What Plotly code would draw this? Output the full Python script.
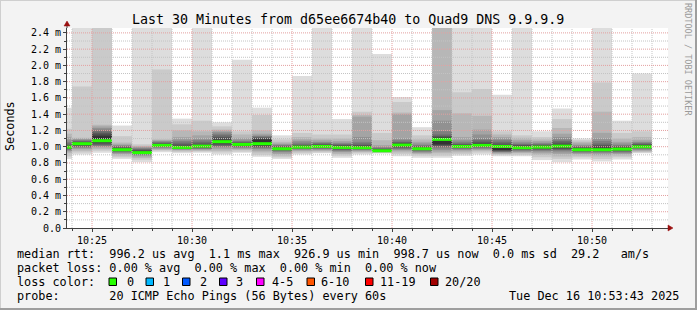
import plotly.graph_objects as go

# ---------------- data ----------------
DAY = "2025-12-16 "
# end time of each 1-minute interval
times = ["10:24", "10:25", "10:26", "10:27", "10:28", "10:29", "10:30", "10:31",
         "10:32", "10:33", "10:34", "10:35", "10:36", "10:37", "10:38", "10:39",
         "10:40", "10:41", "10:42", "10:43", "10:44", "10:45", "10:46", "10:47",
         "10:48", "10:49", "10:50", "10:51", "10:52", "10:53"]

# median rtt (ms)
median = [0.995, 1.037, 1.074, 0.963, 0.927, 1.016, 0.991, 1.007, 1.062, 1.028,
          1.037, 0.975, 0.995, 1.003, 0.991, 0.988, 0.950, 1.020, 0.975, 1.090,
          1.003, 1.016, 1.003, 0.988, 0.995, 1.007, 0.963, 0.963, 0.970, 0.999]

# sorted pings 1..10 (ms)
ping_lo = [
    [0.850, 0.880, 0.920, 0.940, 0.950, 0.960, 0.970, 0.980, 0.985, 0.990],
    [0.905, 0.930, 0.950, 0.970, 0.980, 0.990, 1.000, 1.010, 1.020, 1.030],
    [0.926, 0.950, 0.970, 0.990, 1.000, 1.010, 1.020, 1.030, 1.050, 1.065],
    [0.850, 0.870, 0.890, 0.910, 0.920, 0.930, 0.940, 0.950, 0.955, 0.960],
    [0.810, 0.840, 0.860, 0.880, 0.890, 0.900, 0.910, 0.920, 0.925, 0.930],
    [0.933, 0.950, 0.960, 0.970, 0.980, 0.990, 1.000, 1.005, 1.010, 1.013],
    [0.920, 0.935, 0.950, 0.960, 0.965, 0.970, 0.975, 0.980, 0.985, 0.990],
    [0.926, 0.940, 0.950, 0.960, 0.970, 0.975, 0.980, 0.990, 0.995, 1.000],
    [0.905, 0.930, 0.950, 0.970, 0.990, 1.000, 1.010, 1.020, 1.040, 1.050],
    [0.926, 0.940, 0.960, 0.970, 0.980, 0.990, 1.000, 1.010, 1.015, 1.020],
    [0.876, 0.900, 0.930, 0.950, 0.970, 0.980, 0.990, 1.000, 1.010, 1.030],
    [0.850, 0.870, 0.890, 0.910, 0.930, 0.940, 0.950, 0.960, 0.965, 0.970],
    [0.905, 0.920, 0.940, 0.950, 0.960, 0.970, 0.975, 0.980, 0.985, 0.990],
    [0.920, 0.930, 0.945, 0.955, 0.965, 0.970, 0.980, 0.985, 0.990, 0.995],
    [0.864, 0.890, 0.910, 0.930, 0.940, 0.950, 0.960, 0.970, 0.980, 0.985],
    [0.905, 0.920, 0.935, 0.945, 0.955, 0.960, 0.970, 0.975, 0.980, 0.985],
    [0.917, 0.925, 0.930, 0.935, 0.940, 0.942, 0.944, 0.946, 0.948, 0.950],
    [0.884, 0.910, 0.930, 0.950, 0.960, 0.970, 0.980, 0.990, 1.000, 1.010],
    [0.864, 0.890, 0.910, 0.920, 0.930, 0.940, 0.950, 0.960, 0.965, 0.970],
    [0.864, 0.890, 0.920, 0.940, 0.960, 0.980, 1.000, 1.010, 1.020, 1.030],
    [0.890, 0.910, 0.930, 0.950, 0.960, 0.970, 0.980, 0.990, 0.995, 1.000],
    [0.905, 0.930, 0.950, 0.960, 0.970, 0.980, 0.990, 1.000, 1.005, 1.010],
    [0.884, 0.900, 0.910, 0.920, 0.930, 0.935, 0.940, 0.950, 0.955, 0.960],
    [0.884, 0.900, 0.920, 0.930, 0.940, 0.950, 0.960, 0.970, 0.975, 0.980],
    [0.835, 0.870, 0.900, 0.920, 0.940, 0.950, 0.960, 0.970, 0.980, 0.990],
    [0.810, 0.850, 0.880, 0.910, 0.930, 0.950, 0.960, 0.970, 0.980, 0.990],
    [0.843, 0.870, 0.890, 0.910, 0.920, 0.930, 0.940, 0.950, 0.955, 0.960],
    [0.818, 0.850, 0.880, 0.900, 0.920, 0.930, 0.940, 0.950, 0.955, 0.960],
    [0.843, 0.870, 0.890, 0.910, 0.920, 0.930, 0.940, 0.950, 0.960, 0.965],
    [0.920, 0.930, 0.940, 0.950, 0.960, 0.970, 0.980, 0.985, 0.990, 0.995],
]
# sorted pings 11..20 (ms)
ping_hi = [
    [1.000, 1.010, 1.020, 1.040, 1.060, 1.090, 1.120, 1.160, 1.220, 1.480],
    [1.040, 1.050, 1.060, 1.070, 1.080, 1.090, 1.100, 1.110, 1.740, 2.900],
    [1.130, 1.150, 1.170, 1.190, 1.210, 1.230, 1.250, 1.270, 2.800, 3.000],
    [0.970, 0.980, 0.990, 1.000, 1.010, 1.020, 1.030, 1.050, 1.130, 1.260],
    [0.940, 0.950, 0.960, 0.970, 0.980, 0.990, 1.000, 1.010, 1.030, 2.900],
    [1.020, 1.030, 1.040, 1.050, 1.060, 1.070, 1.080, 1.090, 1.950, 2.900],
    [1.000, 1.010, 1.030, 1.050, 1.070, 1.090, 1.120, 1.200, 1.275, 1.345],
    [1.010, 1.020, 1.040, 1.060, 1.080, 1.100, 1.140, 1.190, 1.320, 2.900],
    [1.080, 1.100, 1.120, 1.140, 1.160, 1.180, 1.200, 1.210, 1.250, 1.300],
    [1.035, 1.040, 1.050, 1.060, 1.070, 1.090, 1.110, 1.150, 1.190, 2.070],
    [1.090, 1.100, 1.110, 1.120, 1.130, 1.140, 1.160, 1.200, 1.390, 1.480],
    [0.980, 0.990, 1.000, 1.010, 1.020, 1.030, 1.040, 1.060, 1.090, 1.140],
    [1.000, 1.010, 1.020, 1.030, 1.050, 1.070, 1.090, 1.120, 1.170, 1.870],
    [1.010, 1.020, 1.030, 1.040, 1.050, 1.060, 1.080, 1.100, 1.150, 2.900],
    [1.000, 1.010, 1.020, 1.030, 1.040, 1.050, 1.070, 1.100, 1.150, 1.340],
    [1.000, 1.010, 1.020, 1.040, 1.060, 1.120, 1.370, 1.390, 1.430, 2.900],
    [0.955, 0.960, 0.970, 0.980, 0.990, 1.000, 1.020, 1.080, 1.170, 2.140],
    [1.030, 1.040, 1.050, 1.060, 1.080, 1.100, 1.400, 1.420, 1.550, 1.610],
    [0.980, 0.990, 1.000, 1.010, 1.020, 1.040, 1.060, 1.090, 1.140, 1.240],
    [1.110, 1.120, 1.130, 1.150, 1.190, 1.320, 1.450, 2.700, 2.800, 3.000],
    [1.010, 1.020, 1.030, 1.040, 1.060, 1.080, 1.120, 1.410, 1.670, 2.900],
    [1.030, 1.040, 1.060, 1.080, 1.100, 1.150, 1.210, 1.380, 1.710, 2.900],
    [1.005, 1.020, 1.040, 1.060, 1.080, 1.100, 1.120, 1.150, 1.190, 1.640],
    [1.000, 1.010, 1.020, 1.030, 1.040, 1.060, 1.080, 1.110, 1.140, 2.900],
    [1.000, 1.010, 1.020, 1.030, 1.040, 1.050, 1.070, 1.090, 1.120, 1.190],
    [1.020, 1.030, 1.050, 1.070, 1.090, 1.120, 1.160, 1.230, 1.340, 1.470],
    [0.970, 0.980, 0.990, 1.000, 1.010, 1.020, 1.040, 1.060, 1.080, 1.100],
    [0.980, 1.000, 1.020, 1.040, 1.070, 1.100, 1.170, 1.430, 1.790, 2.900],
    [0.980, 0.990, 1.000, 1.010, 1.020, 1.040, 1.060, 1.100, 1.170, 1.320],
    [1.010, 1.020, 1.030, 1.040, 1.050, 1.060, 1.080, 1.120, 1.190, 1.900],
]

y_tick_vals = [0.0, 0.2, 0.4, 0.6, 0.8, 1.0, 1.2, 1.4, 1.6, 1.8, 2.0, 2.2, 2.4]
y_tick_text = ["0.0", "0.2 m", "0.4 m", "0.6 m", "0.8 m", "1.0 m", "1.2 m",
               "1.4 m", "1.6 m", "1.8 m", "2.0 m", "2.2 m", "2.4 m"]
x_tick_text = ["10:25", "10:30", "10:35", "10:40", "10:45", "10:50"]

loss_labels = ["0", "1", "2", "3", "4-5", "6-10", "11-19", "20/20"]
loss_colors = ["#26ff00", "#00b8ff", "#0059ff", "#5e00ff", "#ff00ff",
               "#ff5500", "#ff0000", "#a10000"]

legend_rtt = "median rtt:  996.2 us avg  1.1 ms max  926.9 us min  998.7 us now  0.0 ms sd  29.2   am/s"
legend_loss = "packet loss: 0.00 % avg  0.00 % max  0.00 % min  0.00 % now"
legend_probe = "probe:       20 ICMP Echo Pings (56 Bytes) every 60s"
legend_date = "Tue Dec 16 10:53:43 2025"
title_text = "Last 30 Minutes from d65ee6674b40 to Quad9 DNS 9.9.9.9"

# ---------------- layout geometry ----------------
W, H = 697, 310
ML, MR, MT, MB = 67, 29, 28, 82
PW, PH = W - ML - MR, H - MT - MB
Y_MAX = 2.46
X_RANGE = [DAY + "10:23:45", DAY + "10:53:48"]
MONO = "DejaVu Sans Mono"


def xp(px):
    return (px - ML) / PW


def yp(py):
    return (H - MB - py) / PH


xs = [DAY + t + ":00" for t in times]
smoke_levels = [221, 202, 183, 164, 145, 126, 107, 88, 69, 50]

fig = go.Figure()
for k, g in enumerate(smoke_levels):
    base = [lo[k] for lo in ping_lo]
    top = [hi[9 - k] for hi in ping_hi]
    fig.add_trace(go.Bar(
        x=xs, base=base, y=[t - b for t, b in zip(top, base)],
        width=60000, offset=-60000,
        marker=dict(color=f"rgb({g},{g},{g})", line=dict(width=0)),
        hoverinfo="skip"))

HW = 0.0185
fig.add_trace(go.Bar(
    x=xs, base=[m - HW for m in median], y=[2 * HW] * len(median),
    width=60000, offset=-60000,
    marker=dict(color=loss_colors[0], line=dict(width=0)), hoverinfo="skip"))

shapes = []
# grid (drawn above the smoke, as rrdtool does)
for t in times:
    major = int(t[-2:]) % 5 == 0
    shapes.append(dict(type="line", xref="x", yref="paper", x0=DAY + t + ":00",
                       x1=DAY + t + ":00", y0=0, y1=1, layer="above",
                       line=dict(color="#e3a0a0" if major else "#c4c4c4",
                                 width=1, dash="1px,1px")))
for i in range(1, 25):
    v = i / 10
    major = i % 2 == 0
    shapes.append(dict(type="line", xref="paper", yref="y", x0=0, x1=1,
                       y0=v, y1=v, layer="above",
                       line=dict(color="#e3a0a0" if major else "#c4c4c4",
                                 width=1, dash="1px,1px")))
# axis arrows
shapes.append(dict(type="line", xref="paper", yref="paper", xsizemode="pixel",
                   ysizemode="pixel", xanchor=0, yanchor=1, x0=0, x1=0, y0=0, y1=4,
                   line=dict(color="#404040", width=1)))
shapes.append(dict(type="path", xref="paper", yref="paper", xsizemode="pixel",
                   ysizemode="pixel", xanchor=0, yanchor=1,
                   path="M -3,2 L 3,2 L 0,7 Z", fillcolor="#9a1010",
                   line=dict(color="#9a1010", width=0.5)))
shapes.append(dict(type="path", xref="paper", yref="paper", xsizemode="pixel",
                   ysizemode="pixel", xanchor=1, yanchor=0,
                   path="M 0,-3 L 0,3 L 5,0 Z", fillcolor="#9a1010",
                   line=dict(color="#9a1010", width=0.5)))
# frame
shapes.append(dict(type="line", xref="paper", yref="paper", x0=xp(0), x1=xp(W),
                   y0=yp(0.5), y1=yp(0.5), line=dict(color="#cfcfcf", width=1)))
shapes.append(dict(type="line", xref="paper", yref="paper", x0=xp(0.5), x1=xp(0.5),
                   y0=yp(0), y1=yp(H), line=dict(color="#cfcfcf", width=1)))
shapes.append(dict(type="line", xref="paper", yref="paper", x0=xp(0), x1=xp(W),
                   y0=yp(H - 1), y1=yp(H - 1), line=dict(color="#9e9e9e", width=2)))
shapes.append(dict(type="line", xref="paper", yref="paper", x0=xp(W - 1), x1=xp(W - 1),
                   y0=yp(0), y1=yp(H), line=dict(color="#9e9e9e", width=2)))
# loss colour boxes
box_left = [109, 146, 182.5, 219.5, 256.5, 307, 365.5, 430.5]
label_left = [125.5, 161.5, 198.5, 235.5, 271, 320, 378.5, 444]
for bx, c in zip(box_left, loss_colors):
    shapes.append(dict(type="rect", xref="paper", yref="paper",
                       x0=xp(bx), x1=xp(bx + 7.5), y0=yp(278), y1=yp(285.5),
                       fillcolor=c, line=dict(color="#000000", width=1)))

ann = []


def txt(s, x, y, size=11.8, anchor="left", color="#000000", angle=0):
    ann.append(dict(text=s.replace(" ", "\u00a0"), x=xp(x), y=yp(y), xref="paper",
                    yref="paper", xanchor=anchor, yanchor="middle", showarrow=False,
                    textangle=angle, borderpad=0,
                    font=dict(family=MONO, size=size, color=color)))


txt(title_text, 347.5, 19, size=13.3, anchor="center")
txt("Seconds", 10, 126, anchor="center", angle=-90)
txt("RRDTOOL / TOBI OETIKER", 688, 59, size=8.5, anchor="center",
    color="#9a9a9a", angle=90)

L1, L2, L3, L4 = 254.3, 268.3, 282.3, 296.2
txt(legend_rtt, 16, L1)
txt(legend_loss, 16, L2)
txt("loss color:", 16, L3)
for s, x in zip(loss_labels, label_left):
    txt(s, x, L3)
txt(legend_probe, 16, L4)
txt(legend_date, 680, L4, anchor="right")

fig.update_layout(
    width=W, height=H, autosize=False,
    margin=dict(l=ML, r=MR, t=MT, b=MB, pad=0),
    paper_bgcolor="#f3f3f3", plot_bgcolor="#ffffff",
    barmode="overlay", showlegend=False,
    shapes=shapes, annotations=ann,
    xaxis=dict(type="date", range=X_RANGE, showgrid=False, zeroline=False,
               tickvals=[DAY + t + ":00" for t in x_tick_text], ticktext=x_tick_text,
               ticks="outside", ticklen=3, tickcolor="#404040",
               showline=True, linecolor="#404040", linewidth=1,
               tickfont=dict(family=MONO, size=10, color="#000000"),
               minor=dict(dtick=60000, tick0=DAY + "10:24:00", ticks="outside",
                          ticklen=2, tickcolor="#404040", showgrid=False),
               fixedrange=True),
    yaxis=dict(range=[0, Y_MAX], showgrid=False, zeroline=False,
               tickvals=y_tick_vals, ticktext=y_tick_text,
               ticks="outside", ticklen=3, tickcolor="#404040",
               showline=True, linecolor="#404040", linewidth=1,
               tickfont=dict(family=MONO, size=10, color="#000000"),
               minor=dict(dtick=0.1, tick0=0, ticks="outside", ticklen=2,
                          tickcolor="#404040", showgrid=False),
               fixedrange=True),
)

fig.write_html("out.html", config={"displayModeBar": False})
